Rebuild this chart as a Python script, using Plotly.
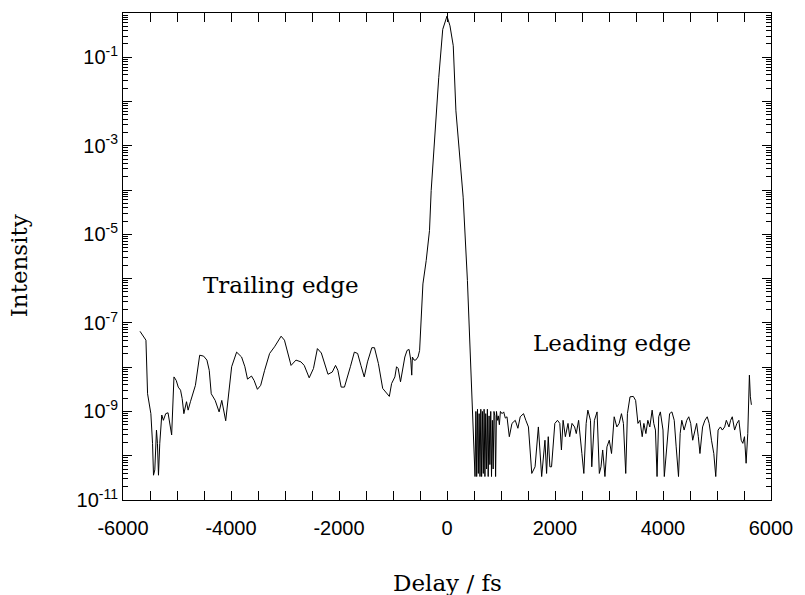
import plotly.graph_objects as go

# Autocorrelation trace: delay (fs) and log10 of normalised intensity.
# Trailing-edge pedestal (negative delays)
trail_delay = [-5685, -5606, -5575, -5545, -5484, -5453, -5435, -5411, -5380, -5362,
               -5343, -5319, -5282, -5252, -5209, -5166, -5136, -5099, -5056, -5014,
               -4977, -4934, -4904, -4873, -4824, -4794, -4751, -4659, -4580, -4507,
               -4446, -4403, -4366, -4293, -4220, -4171, -4098, -4049, -3988, -3896,
               -3804, -3743, -3694, -3621, -3572, -3511, -3450, -3377, -3285, -3194,
               -3072, -3010, -2949, -2888, -2797, -2705, -2644, -2552, -2473, -2400,
               -2327, -2266, -2204, -2125, -2064, -2021, -1960, -1899, -1838, -1789,
               -1716, -1655, -1594, -1533, -1472, -1392, -1343, -1270, -1191, -1117,
               -1068, -1026, -965, -934, -904, -861, -812, -781, -739, -702,
               -671, -653, -641, -610, -580, -537, -507]
trail_log = [-7.19, -7.32, -7.39, -8.60, -9.05, -9.72, -10.44, -10.32, -9.42, -9.72,
             -10.44, -9.72, -9.08, -9.20, -9.05, -9.03, -9.31, -9.53, -8.22, -8.30,
             -8.45, -8.52, -8.71, -9.05, -8.78, -8.97, -8.78, -8.41, -7.73, -7.75,
             -7.84, -8.07, -8.60, -8.75, -9.01, -8.75, -9.21, -8.67, -7.99, -7.66,
             -7.77, -7.99, -8.27, -8.20, -8.30, -8.50, -8.41, -8.07, -7.69, -7.54,
             -7.30, -7.39, -7.69, -7.96, -7.84, -7.88, -7.96, -8.24, -8.03, -7.58,
             -7.68, -7.92, -8.16, -8.11, -7.96, -8.07, -8.45, -8.45, -8.22, -7.99,
             -7.66, -7.69, -7.96, -8.22, -7.88, -7.56, -7.56, -7.92, -8.48, -8.58,
             -8.66, -8.37, -8.22, -7.99, -8.03, -8.33, -8.03, -7.77, -7.62, -7.60,
             -7.84, -8.18, -7.77, -7.84, -7.84, -7.77, -7.62]

# Main pulse
peak_delay = [-476, -446, -385, -324, -293, -153, -79, 0, 55, 116, 165, 299, 378]
peak_log = [-6.72, -6.12, -5.59, -4.91, -4.01, -1.46, -0.37, -0.07, -0.29, -0.74,
            -2.21, -4.16, -6.04]

# Leading-edge background (positive delays)
lead_delay = [470, 490, 519, 535, 550, 565, 580, 595, 611, 626,
              641, 656, 672, 687, 702, 717, 733, 748, 763, 779,
              794, 810, 824, 840, 855, 870, 886, 900, 916, 935,
              950, 970, 989, 1020, 1050, 1080, 1111, 1154, 1203, 1264,
              1313, 1356, 1417, 1460, 1508, 1570, 1631, 1692, 1722, 1753,
              1814, 1844, 1875, 1905, 1936, 1997, 2046, 2089, 2119, 2150,
              2192, 2241, 2272, 2315, 2363, 2394, 2437, 2473, 2498, 2534,
              2577, 2608, 2657, 2681, 2730, 2779, 2821, 2852, 2883, 2925,
              2962, 3005, 3047, 3096, 3145, 3188, 3231, 3267, 3310, 3341,
              3389, 3450, 3493, 3536, 3573, 3615, 3646, 3683, 3719, 3756,
              3799, 3829, 3860, 3890, 3921, 3951, 4000, 4024, 4073, 4122,
              4165, 4208, 4244, 4287, 4318, 4348, 4391, 4440, 4477, 4513,
              4550, 4593, 4623, 4654, 4684, 4733, 4776, 4819, 4855, 4898,
              4941, 4977, 5020, 5063, 5099, 5142, 5173, 5222, 5252, 5283,
              5326, 5368, 5405, 5448, 5478, 5509, 5539, 5570, 5600, 5618,
              5637]
lead_log = [-8.90, -9.20, -10.47, -9.00, -10.47, -8.95, -10.40, -9.05, -10.47, -8.95,
            -10.47, -9.00, -10.40, -8.95, -10.47, -9.05, -10.30, -8.95, -10.47, -9.10,
            -10.20, -9.00, -10.47, -9.20, -10.30, -9.00, -9.10, -10.47, -9.00, -9.20,
            -9.10, -9.30, -9.00, -9.05, -9.01, -9.15, -9.12, -9.57, -9.27, -9.20,
            -9.38, -9.12, -9.05, -9.20, -9.35, -10.40, -10.25, -9.35, -9.95, -10.47,
            -9.65, -10.40, -9.57, -10.25, -10.25, -9.27, -9.20, -9.27, -9.87, -9.20,
            -9.57, -9.27, -9.57, -9.27, -9.35, -9.50, -9.20, -9.57, -9.95, -10.40,
            -9.27, -8.97, -9.20, -10.25, -9.20, -9.01, -10.40, -10.25, -9.87, -10.47,
            -9.80, -9.65, -9.95, -9.12, -9.35, -9.27, -9.05, -9.27, -10.40, -9.05,
            -8.67, -8.66, -8.75, -9.27, -9.20, -9.57, -9.27, -9.50, -9.20, -9.35,
            -8.97, -9.27, -9.42, -10.47, -9.12, -9.01, -9.42, -10.47, -9.65, -9.05,
            -9.01, -9.20, -9.80, -10.47, -9.50, -9.20, -9.42, -9.20, -9.12, -9.27,
            -9.65, -9.42, -9.27, -9.57, -9.95, -9.35, -9.20, -9.12, -9.27, -9.65,
            -9.95, -10.47, -9.42, -9.35, -9.42, -9.35, -9.20, -9.35, -9.20, -9.12,
            -9.42, -9.27, -9.20, -9.65, -9.72, -9.57, -10.17, -9.50, -8.18, -8.67,
            -8.85]

delay = trail_delay + peak_delay + lead_delay
intensity = [10 ** v for v in trail_log + peak_log + lead_log]

# Axis ticks
x_tickvals = [-6000, -4000, -2000, 0, 2000, 4000, 6000]
x_ticktext = ["-6000", "-4000", "-2000", "0", "2000", "4000", "6000"]
labelled_exp = [-11, -9, -7, -5, -3, -1]
plain_exp = [-10, -8, -6, -4, -2, 0]
y_tickvals = [10.0 ** e for e in labelled_exp]
y_ticktext = [f"10<sup>{e}</sup>" for e in labelled_exp]
y_plainvals = [10.0 ** e for e in plain_exp]

fig = go.Figure()
fig.add_trace(go.Scatter(x=delay, y=intensity, mode="lines",
                         line=dict(color="black", width=1), showlegend=False,
                         hoverinfo="skip"))

tick_font = dict(family="Liberation Sans, Arial, sans-serif", size=20, color="black")
serif = "DejaVu Serif, Century Schoolbook, serif"
title_font = dict(family=serif, size=23, color="black")

fig.update_layout(
    width=805, height=595, margin=dict(l=123, r=27, t=12, b=95),
    paper_bgcolor="white", plot_bgcolor="white",
    xaxis=dict(range=[-6000, 6000], tickvals=x_tickvals, ticktext=x_ticktext,
               ticks="inside", ticklen=9, tickwidth=1, tickcolor="black",
               ticklabelstandoff=10,
               minor=dict(dtick=500, ticks="inside", ticklen=5, tickcolor="black"),
               showline=True, linecolor="black", linewidth=1, mirror="allticks",
               showgrid=False, zeroline=False, tickfont=tick_font),
    yaxis=dict(type="log", range=[-11, 0], tickvals=y_tickvals, ticktext=y_ticktext,
               ticks="inside", ticklen=9, tickwidth=1, tickcolor="black",
               minor=dict(dtick="D1", ticks="inside", ticklen=5, tickcolor="black"),
               showline=True, linecolor="black", linewidth=1, mirror="allticks",
               showgrid=False, zeroline=False, tickfont=tick_font),
    # unlabelled decade ticks sit on an overlaid copy of the log axis
    yaxis2=dict(type="log", range=[-11, 0], overlaying="y", side="left", anchor="x",
                tickvals=y_plainvals, showticklabels=False,
                ticks="inside", ticklen=9, tickwidth=1, tickcolor="black",
                showline=True, linecolor="black", linewidth=1, mirror="allticks",
                showgrid=False, zeroline=False),
)
fig.add_trace(go.Scatter(x=[None], y=[None], yaxis="y2", mode="lines",
                         showlegend=False, hoverinfo="skip"))

fig.add_annotation(x=-3080, y=-6.15, xref="x", yref="y", text="Trailing edge",
                   showarrow=False, font=title_font)
fig.add_annotation(x=3064, y=-7.46, xref="x", yref="y", text="Leading edge",
                   showarrow=False, font=title_font)
fig.add_annotation(x=0.5, y=0, xref="paper", yref="paper", yanchor="middle",
                   yshift=-83, text="Delay / fs", showarrow=False, font=title_font)
fig.add_annotation(x=0, y=0.48, xref="paper", yref="paper", xanchor="center",
                   xshift=-104, text="Intensity", textangle=-90, showarrow=False,
                   font=title_font)

fig.write_html("out.html")
